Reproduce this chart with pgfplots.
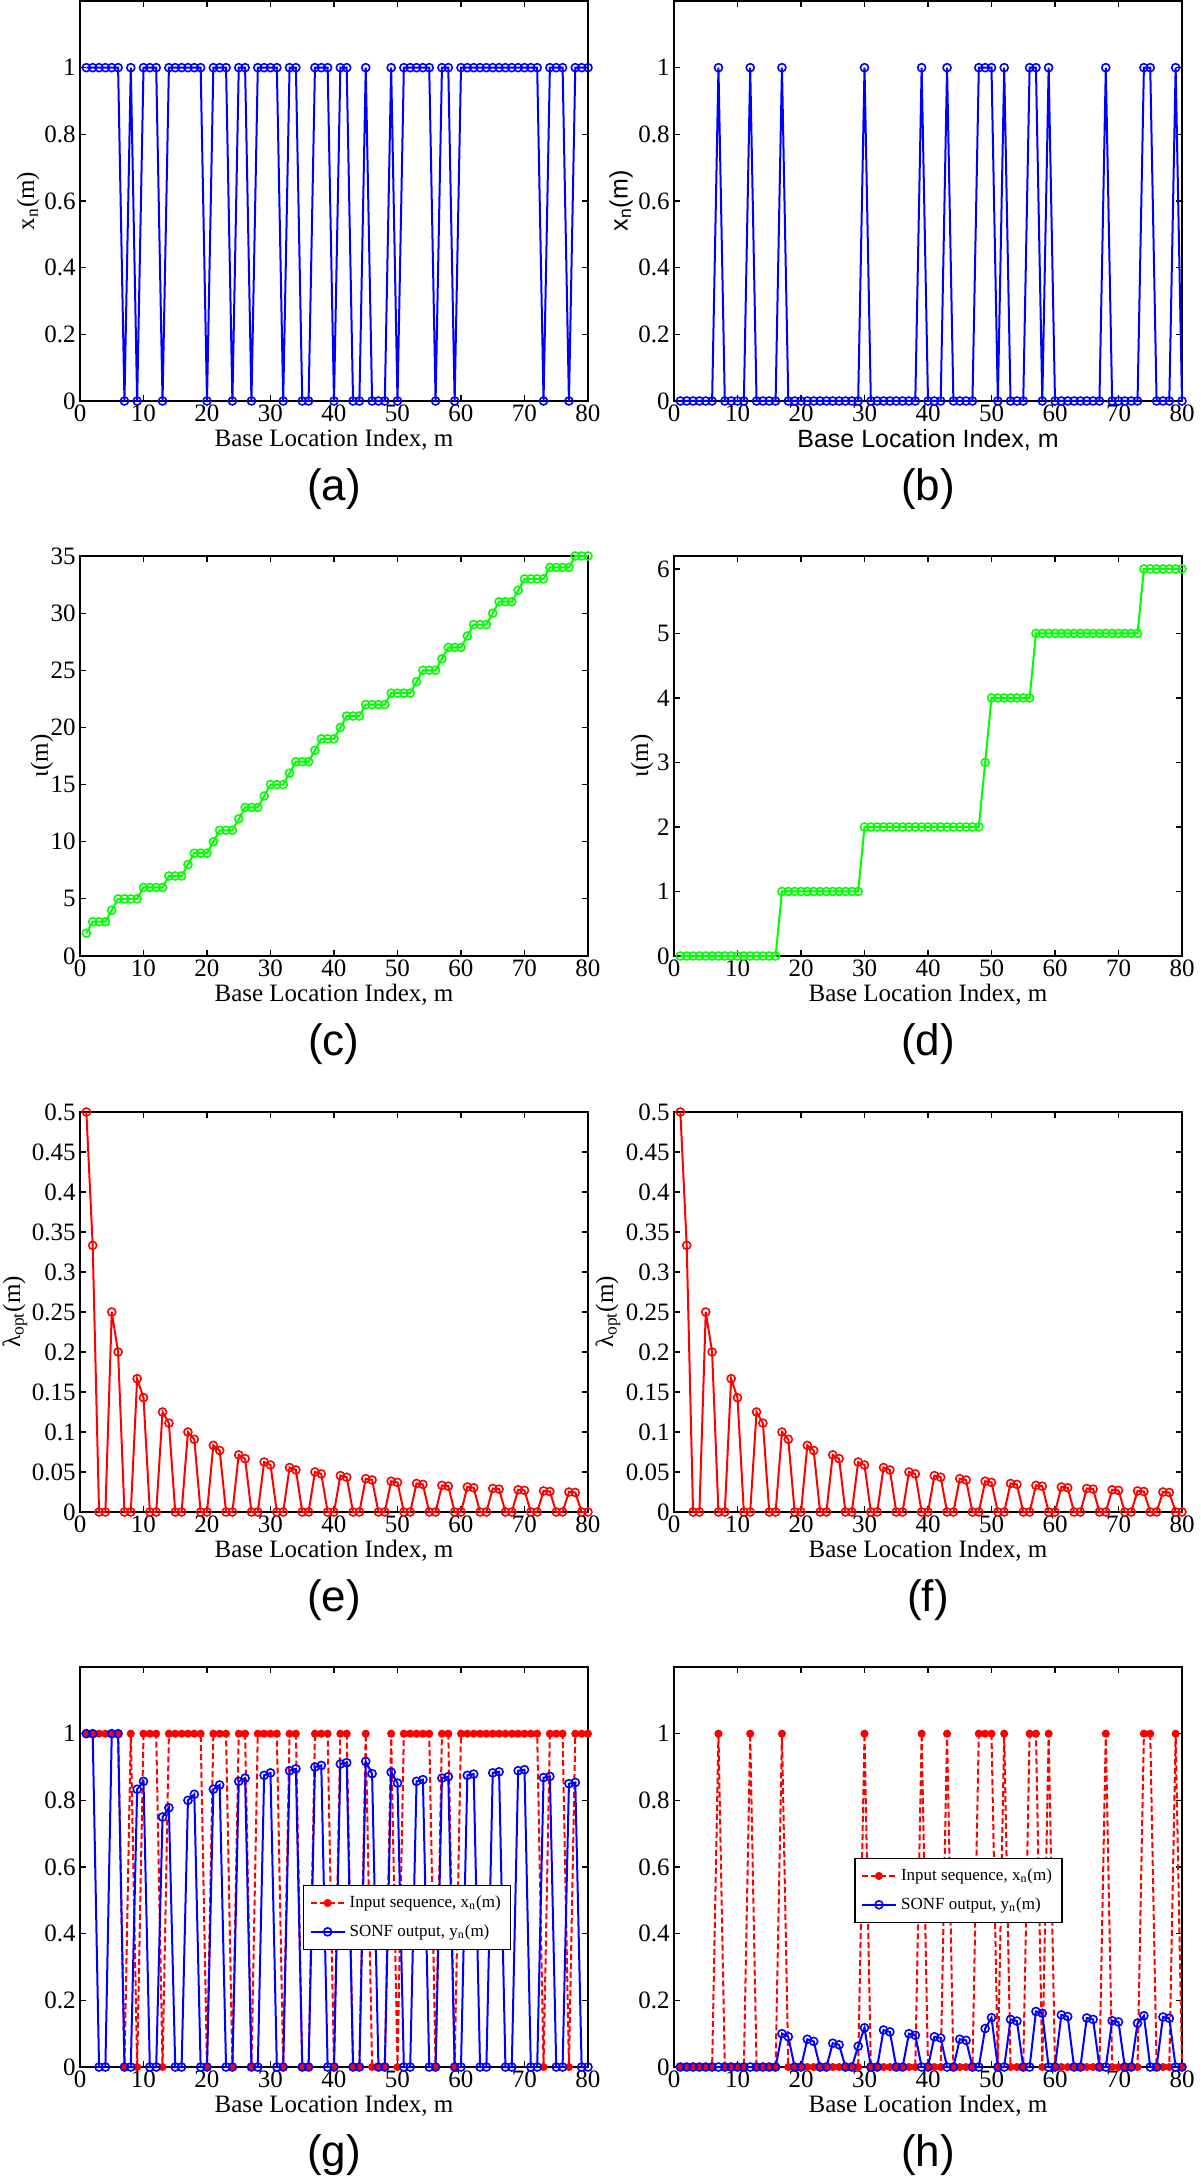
\documentclass[border=0pt]{standalone}
\usepackage{fontspec}
\setmainfont{Liberation Serif}
\newfontfamily\arial{Liberation Sans}
\usepackage{pgfplots}
\usepackage{pgfplotstable}
\pgfplotsset{compat=1.18}

\pgfplotstableread{
m xa xb ta tb lam ya yb
1 1 0 2 0 0.5 1 0
2 1 0 3 0 0.3333 1 0
3 1 0 3 0 0 0 0
4 1 0 3 0 0 0 0
5 1 0 4 0 0.25 1 0
6 1 0 5 0 0.2 1 0
7 0 1 5 0 0 0 0
8 1 0 5 0 0 0 0
9 0 0 5 0 0.1667 0.8333 0
10 1 0 6 0 0.1429 0.8571 0
11 1 0 6 0 0 0 0
12 1 1 6 0 0 0 0
13 0 0 6 0 0.125 0.75 0
14 1 0 7 0 0.1111 0.7778 0
15 1 0 7 0 0 0 0
16 1 0 7 0 0 0 0
17 1 1 8 1 0.1 0.8 0.1
18 1 0 9 1 0.0909 0.8182 0.0909
19 1 0 9 1 0 0 0
20 0 0 9 1 0 0 0
21 1 0 10 1 0.0833 0.8333 0.0833
22 1 0 11 1 0.0769 0.8462 0.0769
23 1 0 11 1 0 0 0
24 0 0 11 1 0 0 0
25 1 0 12 1 0.0714 0.8571 0.0714
26 1 0 13 1 0.0667 0.8667 0.0667
27 0 0 13 1 0 0 0
28 1 0 13 1 0 0 0
29 1 0 14 1 0.0625 0.875 0.0625
30 1 1 15 2 0.0588 0.8824 0.1176
31 1 0 15 2 0 0 0
32 0 0 15 2 0 0 0
33 1 0 16 2 0.0556 0.8889 0.1111
34 1 0 17 2 0.0526 0.8947 0.1053
35 0 0 17 2 0 0 0
36 0 0 17 2 0 0 0
37 1 0 18 2 0.05 0.9 0.1
38 1 0 19 2 0.0476 0.9048 0.0952
39 1 1 19 2 0 0 0
40 0 0 19 2 0 0 0
41 1 0 20 2 0.0455 0.9091 0.0909
42 1 0 21 2 0.0435 0.913 0.087
43 0 1 21 2 0 0 0
44 0 0 21 2 0 0 0
45 1 0 22 2 0.0417 0.9167 0.0833
46 0 0 22 2 0.04 0.88 0.08
47 0 0 22 2 0 0 0
48 0 1 22 2 0 0 0
49 1 1 23 3 0.0385 0.8846 0.1154
50 0 1 23 4 0.037 0.8519 0.1481
51 1 0 23 4 0 0 0
52 1 1 23 4 0 0 0
53 1 0 24 4 0.0357 0.8571 0.1429
54 1 0 25 4 0.0345 0.8621 0.1379
55 1 0 25 4 0 0 0
56 0 1 25 4 0 0 0
57 1 1 26 5 0.0333 0.8667 0.1667
58 1 0 27 5 0.0323 0.871 0.1613
59 0 1 27 5 0 0 0
60 1 0 27 5 0 0 0
61 1 0 28 5 0.0313 0.875 0.1563
62 1 0 29 5 0.0303 0.8788 0.1515
63 1 0 29 5 0 0 0
64 1 0 29 5 0 0 0
65 1 0 30 5 0.0294 0.8824 0.1471
66 1 0 31 5 0.0286 0.8857 0.1429
67 1 0 31 5 0 0 0
68 1 1 31 5 0 0 0
69 1 0 32 5 0.0278 0.8889 0.1389
70 1 0 33 5 0.027 0.8919 0.1351
71 1 0 33 5 0 0 0
72 1 0 33 5 0 0 0
73 0 0 33 5 0.0263 0.8684 0.1316
74 1 1 34 6 0.0256 0.8718 0.1538
75 1 1 34 6 0 0 0
76 1 0 34 6 0 0 0
77 0 0 34 6 0.025 0.85 0.15
78 1 0 35 6 0.0244 0.8537 0.1463
79 1 1 35 6 0 0 0
80 1 0 35 6 0 0 0
}\data

\pgfplotsset{
  panel/.style={
    scale only axis, width=254pt, height=200pt,
    xmin=0, xmax=80, xtick={0,10,20,30,40,50,60,70,80},
    tick align=inside, major tick length=3pt,
    every tick/.style={black, line width=0.6pt},
    axis line style={line width=0.8pt},
    /pgf/number format/assume math mode=true,
    scaled y ticks=false,
    yticklabel style={/pgf/number format/fixed, /pgf/number format/precision=2, inner sep=2pt},
    tick label style={font=\fontsize{12.5}{12.5}\selectfont},
    xticklabel style={inner sep=1.5pt},
    xlabel={Base Location Index, m},
    xlabel style={at={(axis description cs:0.5,-0.097)}, anchor=center, inner sep=0.5pt, font=\fontsize{12.5}{12.5}\selectfont},
    ylabel style={anchor=center, inner sep=1pt, font=\fontsize{12.5}{12.5}\selectfont},
    clip=false,
  },
  bl/.style={blue, line width=1pt, mark=o, mark size=2pt, mark options={solid, line width=0.8pt}},
  gr/.style={green, line width=1pt, mark=o, mark size=2pt, mark options={solid, line width=0.8pt}},
  rd/.style={red, line width=1pt, mark=o, mark size=2pt, mark options={solid, line width=0.8pt}},
  rdd/.style={red, line width=1pt, dash pattern=on 3pt off 1.5pt, mark=*, mark size=1.5pt, mark options={solid}},
  lg/.style={legend style={at={#1}, anchor=north west, draw=black, line width=0.6pt, fill=white,
     font=\fontsize{8.5}{10}\selectfont, row sep=3pt, inner sep=3pt, cells={anchor=west}}},
}
\tikzset{plab/.style={font=\arial\fontsize{22}{22}\selectfont}}

\begin{document}
\begin{tikzpicture}
\useasboundingbox (0,0) rectangle (600pt,-1088.5pt);

% (a)
\begin{axis}[panel, at={(40pt,-0.5pt)}, anchor=north west,
  ymin=0, ymax=1.2, ytick={0,0.2,0.4,0.6,0.8,1},
  ylabel={x\textsubscript{n}(m)}, ylabel style={at={(axis description cs:-0.102,0.5)}}]
\addplot[bl] table[x=m,y=xa]{\data};
\node[plab] at (axis description cs:0.5,-0.22) {(a)};
\end{axis}

% (b)
\begin{axis}[panel, at={(337pt,-0.5pt)}, anchor=north west,
  ymin=0, ymax=1.2, ytick={0,0.2,0.4,0.6,0.8,1},
  xlabel style={font=\arial\fontsize{12.5}{12.5}\selectfont},
  ylabel={\arial x\textsubscript{n}(m)}, ylabel style={at={(axis description cs:-0.104,0.5)}}]
\addplot[bl] table[x=m,y=xb]{\data};
\node[plab] at (axis description cs:0.5,-0.22) {(b)};
\end{axis}

% (c)
\begin{axis}[panel, at={(40pt,-278pt)}, anchor=north west,
  ymin=0, ymax=35, ytick={0,5,10,15,20,25,30,35},
  ylabel={ι(m)}, ylabel style={at={(axis description cs:-0.075,0.5)}}]
\addplot[gr] table[x=m,y=ta]{\data};
\node[plab] at (axis description cs:0.5,-0.22) {(c)};
\end{axis}

% (d)
\begin{axis}[panel, at={(337pt,-278pt)}, anchor=north west,
  ymin=0, ymax=6.2, ytick={0,1,2,3,4,5,6},
  ylabel={ι(m)}, ylabel style={at={(axis description cs:-0.063,0.5)}}]
\addplot[gr] table[x=m,y=tb]{\data};
\node[plab] at (axis description cs:0.5,-0.22) {(d)};
\end{axis}

% (e)
\begin{axis}[panel, at={(40pt,-556pt)}, anchor=north west,
  ymin=0, ymax=0.5, ytick={0,0.05,0.1,0.15,0.2,0.25,0.3,0.35,0.4,0.45,0.5},
  ylabel={λ\textsubscript{opt}(m)}, ylabel style={at={(axis description cs:-0.128,0.5)}}]
\addplot[rd] table[x=m,y=lam]{\data};
\node[plab] at (axis description cs:0.5,-0.22) {(e)};
\end{axis}

% (f)
\begin{axis}[panel, at={(337pt,-556pt)}, anchor=north west,
  ymin=0, ymax=0.5, ytick={0,0.05,0.1,0.15,0.2,0.25,0.3,0.35,0.4,0.45,0.5},
  ylabel={λ\textsubscript{opt}(m)}, ylabel style={at={(axis description cs:-0.13,0.5)}}]
\addplot[rd] table[x=m,y=lam]{\data};
\node[plab] at (axis description cs:0.5,-0.22) {(f)};
\end{axis}

% (g)
\begin{axis}[panel, at={(40pt,-833.5pt)}, anchor=north west,
  ymin=0, ymax=1.2, ytick={0,0.2,0.4,0.6,0.8,1},
  lg={(0.439,0.455)}]
\addplot[rdd] table[x=m,y=xa]{\data};
\addlegendentry{Input sequence, x\textsubscript{n}(m)}
\addplot[bl] table[x=m,y=ya]{\data};
\addlegendentry{SONF output, y\textsubscript{n}(m)}
\node[plab] at (axis description cs:0.5,-0.22) {(g)};
\end{axis}

% (h)
\begin{axis}[panel, at={(337pt,-833.5pt)}, anchor=north west,
  ymin=0, ymax=1.2, ytick={0,0.2,0.4,0.6,0.8,1},
  lg={(0.355,0.5225)}]
\addplot[rdd] table[x=m,y=xb]{\data};
\addlegendentry{Input sequence, x\textsubscript{n}(m)}
\addplot[bl] table[x=m,y=yb]{\data};
\addlegendentry{SONF output, y\textsubscript{n}(m)}
\node[plab] at (axis description cs:0.5,-0.22) {(h)};
\end{axis}

\end{tikzpicture}
\end{document}
